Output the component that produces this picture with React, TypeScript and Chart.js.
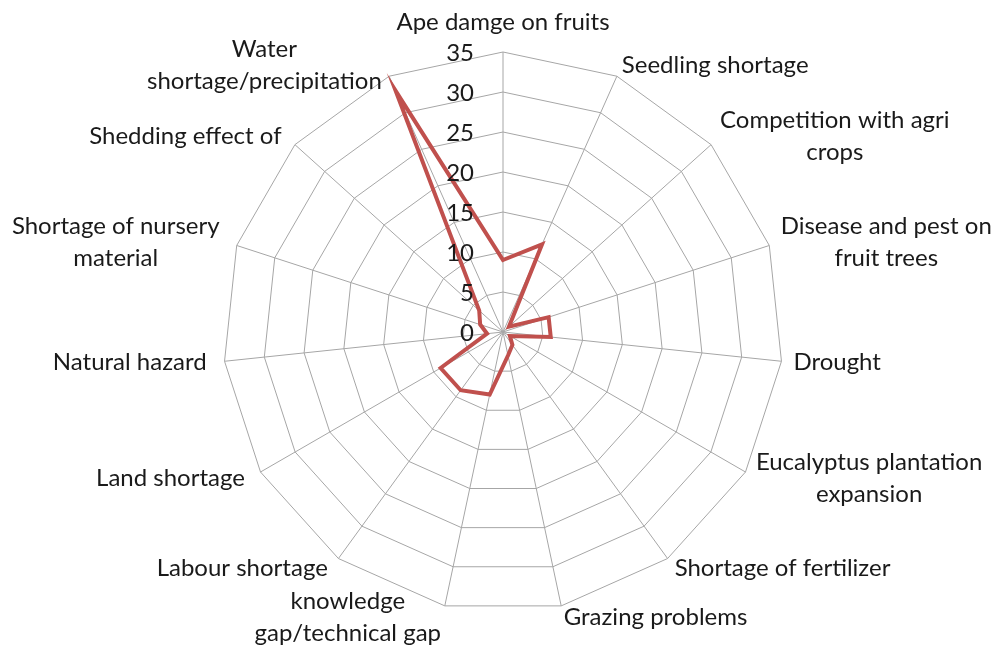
import React, { useEffect, useRef } from 'react';
import { Chart, registerables } from 'chart.js';

Chart.register(...registerables);

const categories: string[][] = [
  ['Ape damge on fruits'],
  ['Seedling shortage'],
  ['Competition with agri', 'crops'],
  ['Disease and pest on', 'fruit trees'],
  ['Drought'],
  ['Eucalyptus plantation', 'expansion'],
  ['Shortage of fertilizer'],
  ['Grazing problems'],
  ['knowledge', 'gap/technical gap'],
  ['Labour shortage'],
  ['Land shortage'],
  ['Natural hazard'],
  ['Shortage of nursery', 'material'],
  ['Shedding effect of'],
  ['Water', 'shortage/precipitation'],
];

const values: number[] = [9, 12, 1, 6, 6, 1, 2, 3, 8, 9, 9, 2, 3, 4, 33];

const tickValues: number[] = [0, 5, 10, 15, 20, 25, 30, 35];

const FONT_FAMILY = 'Lato, "Open Sans", sans-serif';
const FONT_SIZE = 24;
const LINE_H = 32;
const TEXT_COLOR = '#1a1a1a';
const GRID_COLOR = '#a6a6a6';
const SERIES_COLOR = '#C0504D';

const labelPlugin = {
  id: 'excelLabels',
  afterDraw(chart: any) {
    const scale = chart.scales.r;
    const ctx: CanvasRenderingContext2D = chart.ctx;
    ctx.save();
    ctx.font = `${FONT_SIZE}px ${FONT_FAMILY}`;
    ctx.fillStyle = TEXT_COLOR;
    ctx.textBaseline = 'middle';

    // value ticks, right-aligned left of the vertical axis
    ctx.textAlign = 'right';
    tickValues.forEach((v) => {
      const d = scale.getDistanceFromCenterForValue(v);
      ctx.fillText(String(v), scale.xCenter - 29, scale.yCenter - d + 1);
    });

    // category labels
    const outer = scale.drawingArea;
    ctx.textAlign = 'center';
    (chart.data.labels as string[][]).forEach((lines, i) => {
      const p = scale.getPointPosition(i, outer);
      const a = scale.getIndexAngle(i);
      const s = Math.sin(a);
      const c = Math.cos(a);
      const h = lines.length * LINE_H;
      const w = Math.max(...lines.map((l) => ctx.measureText(l).width));
      let cx: number;
      let cy: number;
      if (Math.abs(s) < 0.05) {
        cx = p.x;
        cy = c > 0 ? p.y - 14 - h / 2 : p.y + 14 + h / 2;
      } else if (s > 0) {
        cx = p.x + 12 * s + w / 2;
        cy = p.y - 12 * c;
      } else {
        cx = p.x + 18 * s - w / 2;
        cy = p.y - 12 * c;
      }
      lines.forEach((l, k) => {
        ctx.fillText(l, cx, cy - h / 2 + LINE_H * (k + 0.5));
      });
    });
    ctx.restore();
  },
};

export default function App() {
  const ref = useRef<HTMLCanvasElement | null>(null);

  useEffect(() => {
    if (!ref.current) return;
    const chart = new Chart(ref.current, {
      type: 'radar',
      data: {
        labels: categories,
        datasets: [
          {
            label: 'Series1',
            data: values,
            borderColor: SERIES_COLOR,
            backgroundColor: 'rgba(0,0,0,0)',
            borderWidth: 4,
            pointRadius: 0,
            pointHoverRadius: 0,
            fill: false,
            tension: 0,
          },
        ],
      },
      options: {
        responsive: false,
        animation: false,
        devicePixelRatio: 1,
        layout: { padding: { left: 223, right: 215, top: 52, bottom: 37 } },
        plugins: {
          legend: { display: false },
          tooltip: { enabled: false },
        },
        scales: {
          r: {
            min: 0,
            max: 35,
            beginAtZero: true,
            ticks: { display: false, stepSize: 5 },
            grid: { circular: false, color: GRID_COLOR, lineWidth: 1 },
            angleLines: { display: true, color: GRID_COLOR, lineWidth: 1 },
            pointLabels: { display: false },
          },
        },
      },
      plugins: [labelPlugin],
    });
    return () => chart.destroy();
  }, []);

  return (
    <canvas
      ref={ref}
      width={998}
      height={649}
      style={{ position: 'fixed', left: 0, top: 0, width: 998, height: 649 }}
    />
  );
}
